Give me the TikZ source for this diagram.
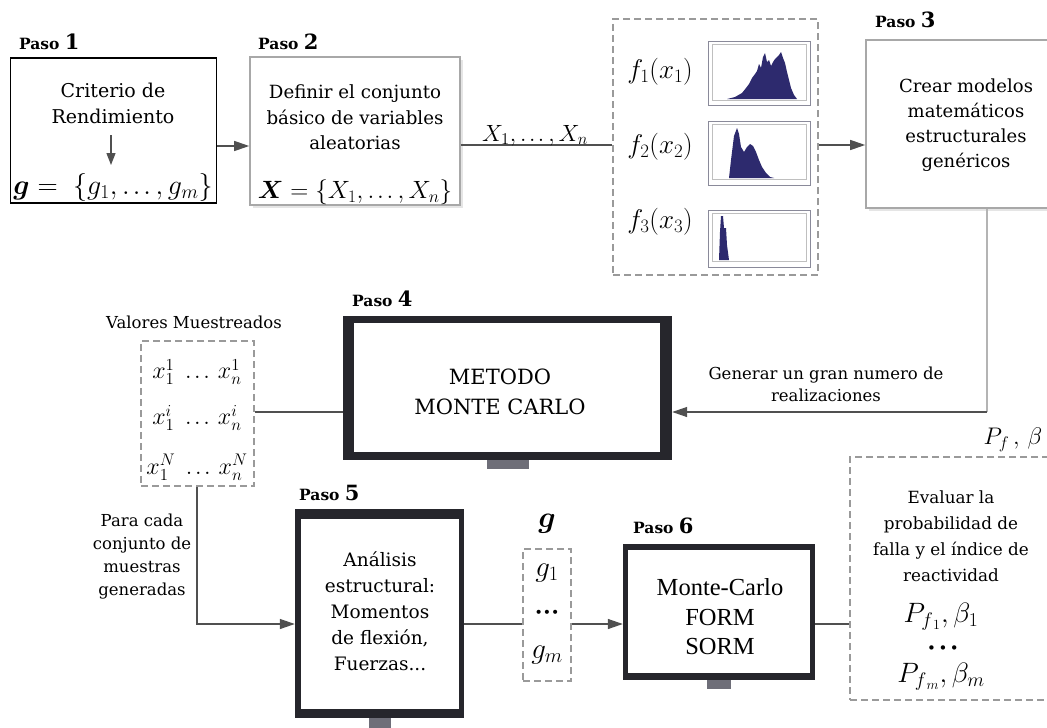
\RequirePackage{fix-cm}
\documentclass[tikz,border=0pt]{standalone}
\usepackage{fontspec}
\setmainfont{DejaVu Serif}
\newfontfamily\timesfont{Liberation Serif}
\usepackage{bm}
\usetikzlibrary{arrows.meta}
\definecolor{framec}{HTML}{26262C}
\definecolor{standc}{HTML}{6E6E78}
\definecolor{connc}{HTML}{505050}
\definecolor{lightconn}{HTML}{B4B4B4}
\definecolor{boxgray}{HTML}{A8A8A8}
\definecolor{dashgray}{HTML}{9A9A9A}
\definecolor{histblue}{HTML}{2D2A6E}
\definecolor{histframe}{HTML}{8A8A9A}
\tikzset{
  conn/.style={draw=connc, line width=1.3pt},
  arr/.style={conn, -{Triangle[length=15pt,width=10pt]}},
  arrs/.style={conn, -{Triangle[length=12pt,width=9pt]}},
  plainbox/.style={draw=black, line width=1.2pt, fill=white, inner sep=0pt},
  graybox/.style={draw=boxgray, line width=1.6pt, fill=white, inner sep=0pt},
  dashbox/.style={draw=dashgray, line width=1.2pt, dash pattern=on 7pt off 4pt, inner sep=0pt},
  thickbox/.style={fill=framec, inner sep=0pt},
  txt/.style={align=center, font=\fontsize{18}{25}\selectfont, inner sep=0pt},
  smalltxt/.style={align=center, font=\fontsize{16.5}{23}\selectfont, inner sep=0pt},
  pasolbl/.style={font=\fontsize{15.5}{17}\selectfont\bfseries, inner sep=0pt, anchor=west},
  mth/.style={inner sep=0pt},
  dotstyle/.style={inner sep=0pt, font=\fontsize{14}{14}\selectfont},
}
\newcommand{\pasonum}[1]{{\fontsize{21}{21}\selectfont #1}}
\newcommand{\eld}{\mathinner{\ldotp\mkern-1mu\ldotp\mkern-1mu\ldotp}}
\begin{document}
\begin{tikzpicture}[x=1pt,y=-1pt]
\useasboundingbox (0,0) rectangle (1047,728);
\fill[white] (0,0) rectangle (1047,728);

% ---------- Step labels ----------
\node[pasolbl] (p1) at (19,42) {Paso \pasonum{1}};
\node[pasolbl] (p2) at (258,42) {Paso \pasonum{2}};
\node[pasolbl] (p3) at (875,20) {Paso \pasonum{3}};
\node[pasolbl] (p4) at (352,299) {Paso \pasonum{4}};
\node[pasolbl] (p5) at (299,493) {Paso \pasonum{5}};
\node[pasolbl] (p6) at (633,526) {Paso \pasonum{6}};

% ---------- Box 1 ----------
\node[plainbox, minimum width=206pt, minimum height=145pt] (b1) at (113.5,130.5) {};
\node[txt, font=\fontsize{19}{26}\selectfont] (crit) at (113,103.5) {Criterio de\\Rendimiento};
\coordinate (a1) at (111,135);
\coordinate (a2) at (111,165);
\draw[arrs] (a1) -- (a2);
\node[mth, font=\fontsize{28}{28}\selectfont] (gform) at (113,187) {$\bm{g} =\;\{g_1, \eld, g_m\}$};

% ---------- Box 2 ----------
\fill[black!10] (253,60) rectangle (463,208);
\node[graybox, minimum width=210pt, minimum height=148pt] (b2) at (355,131) {};
\node[txt, font=\fontsize{18.2}{25.5}\selectfont] (def) at (355,117.5) {Definir el conjunto\\básico de variables\\aleatorias};
\node[mth, font=\fontsize{25}{25}\selectfont] (xform) at (355,192) {$\bm{X} = \{X_1, \eld, X_n\}$};

\coordinate (r1) at (0,146);
\draw[arr] (b1.east |- r1) -- (b2.west |- r1);

% ---------- Histogram dashed box ----------
\node[dashbox, minimum width=205pt, minimum height=256pt] (hb) at (715.5,147) {};
\coordinate (r2) at (0,145);
\draw[conn] (b2.east |- r2) -- (hb.west |- r2);
\node[mth, font=\fontsize{23.5}{23.5}\selectfont, anchor=base] (xl) at (535,141) {$X_1, \eld, X_n$};

\node[mth, font=\fontsize{27}{27}\selectfont] (f1) at (660,72) {$f_1(x_1)$};
\node[mth, font=\fontsize{27}{27}\selectfont] (f2) at (660,147) {$f_2(x_2)$};
\node[mth, font=\fontsize{27}{27}\selectfont] (f3) at (660,222) {$f_3(x_3)$};

% histogram 1
\draw[histframe, line width=0.8pt] (708,41) rectangle (810,105);
\draw[black!25, line width=0.5pt] (712,44) rectangle (806,100);
\fill[histblue] (727,99) -- (735,97) -- (742,93) -- (746,88) -- (749,84) -- (752,78) -- (755,74) -- (757,71) -- (759,64) -- (761,68) -- (763,57) -- (765,53) -- (767,62) -- (769,60) -- (771,66) -- (773,62) -- (775,59) -- (777,57) -- (779,55) -- (781,52) -- (783,58) -- (785,63) -- (787,72) -- (789,80) -- (791,88) -- (794,95) -- (797,99) -- cycle;
% histogram 2
\draw[histframe, line width=0.8pt] (708,121) rectangle (810,185);
\draw[black!25, line width=0.5pt] (712,124) rectangle (806,179);
\fill[histblue] (729,178) -- (731,160) -- (734,136) -- (737,128) -- (739,134) -- (741,147) -- (744,152) -- (747,147) -- (750,144) -- (753,146) -- (756,152) -- (759,160) -- (762,167) -- (766,173) -- (770,177) -- (774,178) -- cycle;
% histogram 3
\draw[histframe, line width=0.8pt] (708,210) rectangle (810,267);
\draw[black!25, line width=0.5pt] (712,213) rectangle (806,261);
\fill[histblue] (719,260) -- (720,232) -- (721,216) -- (723,216) -- (724,228) -- (726,228) -- (727,245) -- (729,260) -- cycle;

% ---------- Box 3 ----------
\fill[black!10] (869,43) rectangle (1072,211);
\node[graybox, minimum width=204pt, minimum height=168pt] (b3) at (968,124) {};
\node[txt] (crea) at (966,125.5) {Crear modelos\\matemáticos\\estructurales\\genéricos};
\draw[arr] (hb.east |- r2) -- (b3.west |- r2);

% ---------- Box 4 ----------
\node[thickbox, minimum width=329pt, minimum height=144pt] (b4) at (507.5,388) {};
\fill[white] (354,323) rectangle (660,452);
\fill[standc] (487,460) rectangle (529,469);
\node[txt, font=\fontsize{21}{30}\selectfont] (mc) at (500,392) {METODO\\MONTE CARLO};

\coordinate (gen) at (987,412);
\draw[lightconn, line width=1.3pt] (b3.south -| gen) -- (gen);
\draw[arr] (gen) -- (b4.east |- gen);
\node[smalltxt, font=\fontsize{16.5}{22}\selectfont] (genl) at (826,384) {Generar un gran numero de\\realizaciones};
\node[mth, font=\fontsize{24}{24}\selectfont] (pfb) at (1013,440) {$P_f\,,\,\beta$};

% ---------- Sampled values ----------
\node[smalltxt] (vm) at (194,322) {Valores Muestreados};
\node[dashbox, minimum width=113pt, minimum height=145pt] (vb) at (197.5,413.5) {};
\node[mth, font=\fontsize{24}{24}\selectfont] (v1) at (197,372) {$x_1^1\;\eld\, x_n^1$};
\node[mth, font=\fontsize{24}{24}\selectfont] (v2) at (197,418) {$x_1^i\;\eld\, x_n^i$};
\node[mth, font=\fontsize{24}{24}\selectfont] (v3) at (197,467) {$x_1^N\;\eld\, x_n^N$};
\coordinate (r3) at (0,412);
\draw[conn] (vb.east |- r3) -- (b4.west |- r3);

\node[smalltxt] (para) at (142,557) {Para cada\\conjunto de\\muestras\\generadas};

% ---------- Box 5 ----------
\node[thickbox, minimum width=169pt, minimum height=209pt] (b5) at (379.5,613.5) {};
\fill[white] (301,519) rectangle (459,709);
\fill[standc] (369,718) rectangle (391,728);
\node[txt, font=\fontsize{18.5}{26}\selectfont] (ana) at (380,611) {Análisis\\estructural:\\Momentos\\de flexión,\\Fuerzas...};

\coordinate (r4) at (197,624);
\draw[arr] (vb.south -| r4) -- (r4) -- (b5.west |- r4);

% ---------- g column ----------
\node[mth, font=\fontsize{30}{30}\selectfont] (gl) at (547,524) {$\bm{g}$};
\node[dashbox, minimum width=48pt, minimum height=132pt] (gb) at (547,615) {};
\node[mth, font=\fontsize{29}{29}\selectfont] (g1) at (547,573) {$g_1$};
\node[dotstyle] (gd) at (547,614) {•••};
\node[mth, font=\fontsize{29}{29}\selectfont] (gm) at (547,655) {$g_m$};
\draw[conn] (b5.east |- r4) -- (gb.west |- r4);

% ---------- Box 6 ----------
\node[thickbox, minimum width=192pt, minimum height=136pt] (b6) at (719,612) {};
\fill[white] (628,550) rectangle (810,673);
\fill[standc] (707,680) rectangle (731,689);
\node[txt, font=\fontsize{24.5}{29.5}\selectfont\timesfont] (meth) at (720,617) {Monte-Carlo\\FORM\\SORM};
\draw[arr] (gb.east |- r4) -- (b6.west |- r4);

% ---------- Result box ----------
\node[dashbox, minimum width=220pt, minimum height=243pt] (rb) at (960,578.5) {};
\node[txt, font=\fontsize{16.8}{26}\selectfont] (eva) at (951,536) {Evaluar la\\probabilidad de\\falla y el índice de\\reactividad};
\node[mth, font=\fontsize{28}{28}\selectfont] (pf1) at (941,617) {$P_{f_{\,1}},\beta_1$};
\node[dotstyle, font=\fontsize{15}{15}\selectfont] (pfd) at (943,650) {•\,•\,•};
\node[mth, font=\fontsize{28}{28}\selectfont] (pfm) at (941,677) {$P_{f_{\,m}},\beta_m$};
\draw[conn] (b6.east |- r4) -- (rb.west |- r4);
\end{tikzpicture}
\end{document}
